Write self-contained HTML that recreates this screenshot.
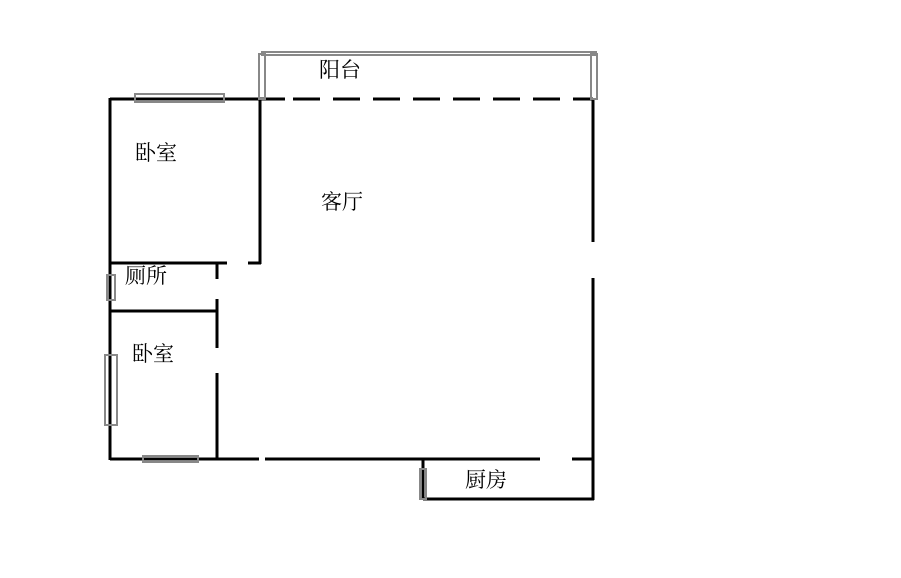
<!DOCTYPE html>
<html><head><meta charset="utf-8"><style>
html,body{margin:0;padding:0;background:#fff;}
svg{display:block}
text{font-family:"Liberation Serif","Noto Serif CJK SC","Noto Sans CJK SC",serif;font-size:21px;fill:#000}
</style></head><body>
<svg width="901" height="578" viewBox="0 0 901 578" xmlns="http://www.w3.org/2000/svg">
<g stroke="#000" stroke-width="3" fill="none">
<line x1="110" y1="99" x2="260" y2="99"/>
<line x1="110" y1="98" x2="110" y2="460"/>
<line x1="260" y1="98" x2="260" y2="264"/>
<line x1="110" y1="263" x2="227" y2="263"/>
<line x1="248" y1="263" x2="261" y2="263"/>
<line x1="217" y1="263" x2="217" y2="279"/>
<line x1="217" y1="299" x2="217" y2="348"/>
<line x1="217" y1="373" x2="217" y2="460"/>
<line x1="110" y1="311" x2="217" y2="311"/>
<line x1="110" y1="459" x2="259" y2="459"/>
<line x1="265" y1="459" x2="540" y2="459"/>
<line x1="572" y1="459" x2="594" y2="459"/>
<line x1="593" y1="99" x2="593" y2="242"/>
<line x1="593" y1="278" x2="593" y2="500"/>
<line x1="423" y1="459" x2="423" y2="500"/>
<line x1="423" y1="499" x2="594" y2="499"/>
<line x1="285" y1="99" x2="593" y2="99" stroke-dasharray="27 13" stroke-dashoffset="-8"/>
<line x1="260" y1="99" x2="285" y2="99"/>
</g>
<g stroke="#888" stroke-width="2" fill="none">
<rect x="262" y="52" width="334" height="3"/>
<rect x="259" y="54" width="6" height="45"/>
<rect x="591" y="54" width="6" height="45"/>
<rect x="135" y="94" width="89" height="8"/>
<rect x="107" y="275" width="8" height="25"/>
<rect x="105" y="355" width="12" height="70"/>
<rect x="143" y="456" width="55" height="6"/>
<rect x="420" y="469" width="6" height="30"/>
</g>
<text x="319" y="77">阳台</text>
<text x="135" y="160">卧室</text>
<text x="321" y="209">客厅</text>
<text x="125" y="283">厕所</text>
<text x="132" y="361">卧室</text>
<text x="465" y="487">厨房</text>
</svg>
</body></html>
